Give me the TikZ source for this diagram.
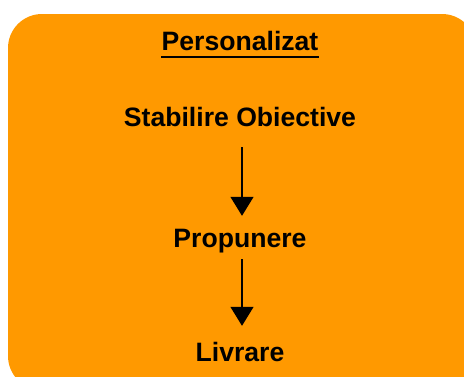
\documentclass[tikz,border=0pt]{standalone}
\usepackage{fontspec}
\setmainfont{Liberation Sans}
\usetikzlibrary{arrows.meta}
\definecolor{boxorange}{RGB}{255,153,0}
\begin{document}
\begin{tikzpicture}[x=1pt,y=-1pt,
  lbl/.style={inner sep=0pt, anchor=base, text height=19pt, text depth=0pt,
    font=\fontsize{26.6}{32}\selectfont\bfseries},
  flow/.style={line width=1.3pt, -{Triangle[width=23pt,length=19pt]}}]
\useasboundingbox (0,0) rectangle (464,376);
\clip (0,0) rectangle (464,376);
\fill[boxorange, rounded corners=34pt] (8,14) rectangle (476,390);
\node[lbl] (t) at (240,50) {Personalizat};
\draw[line width=2.2pt] ([yshift=-7pt]t.south west) -- ([yshift=-7pt]t.south east);
\node[lbl] (s) at (240,126) {Stabilire Obiective};
\node[lbl] (p) at (240,247) {Propunere};
\node[lbl] (l) at (240,361) {Livrare};
\draw[flow, shorten <=21pt, shorten >=12pt] ([xshift=2pt]s.south) -- ([xshift=2pt]p.north);
\draw[flow, shorten <=12pt, shorten >=16pt] ([xshift=2pt]p.south) -- ([xshift=2pt]l.north);
\end{tikzpicture}
\end{document}
